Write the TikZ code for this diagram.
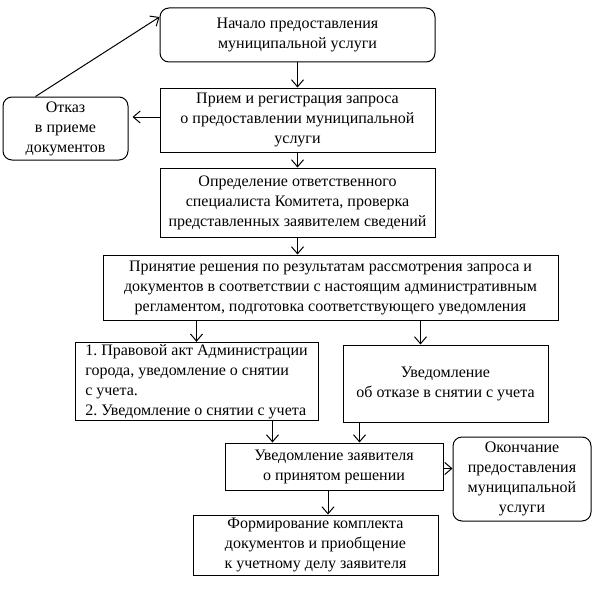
\documentclass[tikz,border=0pt]{standalone}
\usepackage{fontspec}
\setmainfont{Liberation Serif}
\usetikzlibrary{arrows.meta,positioning}
\frenchspacing

\begin{document}
\begin{tikzpicture}[x=1pt, y=-1pt, font=\fontsize{16}{20}\selectfont,
    box/.style={rectangle, draw, line width=1pt, align=center, inner sep=2pt},
    roundbox/.style={box, rounded corners=9pt},
    arr/.style={-{Straight Barb[length=7pt,width=12pt]}, line width=1pt}]
    \useasboundingbox (0,0) rectangle (597,594);

    \node[roundbox, minimum width=275pt, minimum height=54pt] (start) at (297.5,35) {Начало предоставления\\муниципальной услуги};
    \node[box, minimum width=275pt, minimum height=64pt] (reg) at (297.5,120) {Прием и регистрация запроса\\о предоставлении муниципальной\\услуги};
    \node[roundbox, minimum width=125pt, minimum height=63pt] (refuse) at (65.5,128.5) {Отказ\\в приеме\\документов};
    \node[box, minimum width=275pt, minimum height=69pt] (spec) at (297.5,202.5) {Определение ответственного\\специалиста Комитета, проверка\\представленных заявителем сведений};
    \node[box, minimum width=455pt, minimum height=65pt] (decide) at (330.5,287.5) {Принятие решения по результатам рассмотрения запроса и\\документов в соответствии с настоящим административным\\регламентом, подготовка соответствующего уведомления};
    \node[box, minimum width=243pt, minimum height=77pt, align=left] (act) at (196.5,381.5) {1. Правовой акт Администрации\\города, уведомление о снятии\\с учета.\\2. Уведомление о снятии с учета};
    \node[box, minimum width=205pt, minimum height=77pt] (deny) at (445.5,383.5) {Уведомление\\об отказе в снятии с учета};
    \node[box, minimum width=218pt, minimum height=47pt] (notify) at (334,466.5) {Уведомление заявителя\\о принятом решении};
    \node[roundbox, minimum width=138pt, minimum height=84pt] (finish) at (522,479) {Окончание\\предоставления\\муниципальной\\услуги};
    \node[box, minimum width=245pt, minimum height=60pt] (form) at (315.5,545) {Формирование комплекта\\документов и приобщение\\к учетному делу заявителя};

    \draw[arr] (start) -- (reg);
    \draw[arr, shorten >=4pt] ([yshift=3pt]reg.west) -- ([yshift=3pt]reg.west -| refuse.east);
    \draw[arr] ([xshift=-30pt]refuse.north) -- ([yshift=18pt]start.west);
    \draw[arr] (reg) -- (spec);
    \draw[arr] (spec) -- (spec |- decide.north);
    \draw[arr] (act.north |- decide.south) -- (act.north);
    \draw[arr] ([xshift=-25pt]deny.north |- decide.south) -- ([xshift=-25pt]deny.north);
    \draw[arr] ([xshift=76pt]act.south) -- ([xshift=76pt]act.south |- notify.north);
    \draw[arr] ([xshift=-86pt]deny.south) -- ([xshift=-86pt]deny.south |- notify.north);
    \draw[arr] ([yshift=-2pt]notify.east) -- ([yshift=-2pt]notify.east -| finish.west);
    \draw[arr] ([xshift=-6pt]notify.south) -- ([xshift=-6pt]notify.south |- form.north);
\end{tikzpicture}
\end{document}
